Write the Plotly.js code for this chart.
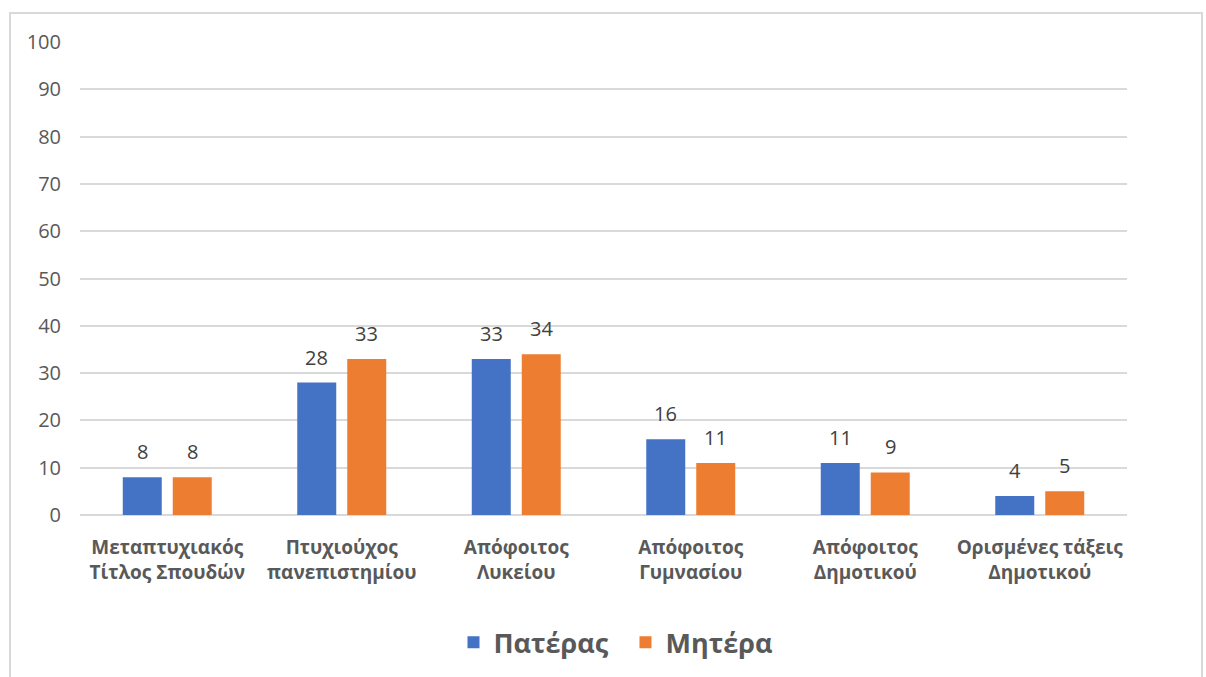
<!DOCTYPE html>
<html>
<head>
<meta charset="utf-8">
<script src="https://cdn.plot.ly/plotly-3.0.1.min.js"></script>
<style>
  html, body { margin: 0; padding: 0; background: #fff; }
  #wrap { position: relative; width: 1206px; height: 677px; overflow: hidden; }
  #frame { position: absolute; left: 9px; top: 12px; width: 1194px; height: 700px; border: 2px solid #d9d9d9; box-sizing: border-box; }
  #chart { position: absolute; left: 0; top: 0; width: 1206px; height: 677px; }
</style>
</head>
<body>
<div id="wrap">
  <div id="frame"></div>
  <div id="chart"></div>
</div>
<script>
const categories = [
  "Μεταπτυχιακός<br>Τίτλος Σπουδών",
  "Πτυχιούχος<br>πανεπιστημίου",
  "Απόφοιτος<br>Λυκείου",
  "Απόφοιτος<br>Γυμνασίου",
  "Απόφοιτος<br>Δημοτικού",
  "Ορισμένες τάξεις<br>Δημοτικού"
];
const fatherValues = [8, 28, 33, 16, 11, 4];
const motherValues = [8, 33, 34, 11, 9, 5];
const seriesNames = ["Πατέρας", "Μητέρα"];
const yTicks = [0, 10, 20, 30, 40, 50, 60, 70, 80, 90, 100];

const font = "Open Sans, Noto Sans, sans-serif";
const traces = [
  { type: "bar", name: seriesNames[0], x: categories, y: fatherValues, marker: { color: "#4472c4" }, hoverinfo: "skip" },
  { type: "bar", name: seriesNames[1], x: categories, y: motherValues, marker: { color: "#ed7d31" }, hoverinfo: "skip" }
];

// data labels placed through the axes (category + value), offset to each bar of the group
const annotations = [];
[fatherValues, motherValues].forEach(function (vals, si) {
  vals.forEach(function (v, i) {
    annotations.push({
      x: categories[i], y: v, xref: "x", yref: "y",
      text: String(v), showarrow: false,
      xshift: si === 0 ? -25 : 25, yshift: 10,
      yanchor: "bottom",
      font: { family: font, size: 20, color: "#404040" }
    });
  });
});

const layout = {
  width: 1206, height: 677,
  margin: { l: 80, r: 79, t: 42, b: 162, autoexpand: false },
  paper_bgcolor: "rgba(0,0,0,0)",
  plot_bgcolor: "rgba(0,0,0,0)",
  barmode: "group",
  bargap: 0.427,
  bargroupgap: 0.22,
  showlegend: true,
  annotations: annotations,
  legend: {
    orientation: "h", x: 0.521, xanchor: "center", y: -0.27, yanchor: "middle",
    font: { family: font, size: 27, color: "#595959", weight: "bold" },
    itemwidth: 30, tracegroupgap: 0,
    entrywidth: 127, entrywidthmode: "pixels"
  },
  xaxis: {
    type: "category",
    tickfont: { family: font, size: 19, color: "#595959", weight: "bold" },
    showgrid: false, showline: false, ticks: "",
    ticklabelstandoff: 19
  },
  yaxis: {
    range: [0, 100],
    tickvals: yTicks,
    ticktext: yTicks.map(String),
    tickfont: { family: font, size: 20, color: "#595959" },
    showgrid: true, gridcolor: "#d9d9d9", gridwidth: 2,
    zeroline: true, zerolinecolor: "#d9d9d9", zerolinewidth: 2,
    showline: false, ticks: "",
    ticklabelstandoff: 18
  }
};
Plotly.newPlot("chart", traces, layout, { displayModeBar: false, staticPlot: true });
</script>
</body>
</html>
